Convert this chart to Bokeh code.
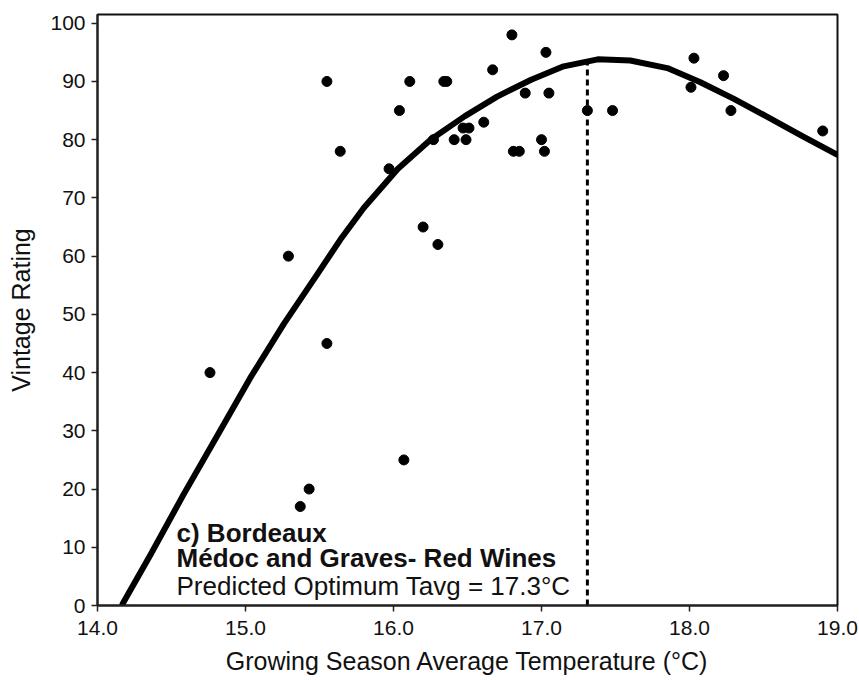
from bokeh.plotting import figure
from bokeh.models import FixedTicker, NumeralTickFormatter, Range1d
from bokeh.core.properties import value
from bokeh.embed import file_html
from bokeh.resources import INLINE

# Observed vintages: growing season average temperature (°C) and vintage rating
temp = [14.76, 15.29, 15.37, 15.43, 15.55, 15.55, 15.64, 15.97, 16.04, 16.07,
        16.11, 16.20, 16.27, 16.30, 16.34, 16.36, 16.41, 16.47, 16.49, 16.51,
        16.61, 16.67, 16.80, 16.81, 16.85, 16.89, 17.00, 17.02, 17.03, 17.05,
        17.31, 17.48, 18.01, 18.03, 18.23, 18.28, 18.90]
rating = [40, 60, 17, 20, 45, 90, 78, 75, 85, 25,
          90, 65, 80, 62, 90, 90, 80, 82, 80, 82,
          83, 92, 98, 78, 78, 88, 80, 78, 95, 88,
          85, 85, 89, 94, 91, 85, 81.5]

# Fitted response curve
curve_t = [14.17, 14.36, 14.58, 14.81, 15.03, 15.26, 15.48, 15.64, 15.80, 16.03,
           16.25, 16.48, 16.70, 16.93, 17.15, 17.38, 17.60, 17.85, 18.07, 18.30,
           18.52, 18.75, 19.00]
curve_r = [0.3, 8.8, 19.0, 29.2, 39.0, 48.4, 56.7, 62.8, 68.3, 75.0,
           80.0, 84.0, 87.4, 90.3, 92.6, 93.8, 93.6, 92.3, 89.9, 87.0,
           84.0, 80.8, 77.4]

optimum_t = [17.31, 17.31]
optimum_r = [0, 93.6]

x_ticks = [14, 15, 16, 17, 18, 19]
y_ticks = [0, 10, 20, 30, 40, 50, 60, 70, 80, 90, 100]

x_title = "Growing Season Average Temperature (°C)"
y_title = "Vintage Rating"
title_lines = ["c) Bordeaux", "Médoc and Graves- Red Wines"]
note_line = ["Predicted Optimum Tavg = 17.3°C"]

FONT = "Liberation Sans"

p = figure(width=859, height=678,
           x_range=Range1d(14, 19), y_range=Range1d(0, 101.5),
           output_backend="svg", toolbar_location=None,
           min_border_left=97, min_border_right=22,
           min_border_top=14, min_border_bottom=73)

p.background_fill_color = "white"
p.border_fill_color = "white"
p.outline_line_color = "#111111"
p.outline_line_width = 2
p.xgrid.grid_line_color = None
p.ygrid.grid_line_color = None

p.xaxis.ticker = FixedTicker(ticks=x_ticks)
p.xaxis.formatter = NumeralTickFormatter(format="0.0")
p.yaxis.ticker = FixedTicker(ticks=y_ticks)

for ax in (p.xaxis[0], p.yaxis[0]):
    ax.axis_line_color = "#222222"
    ax.axis_line_width = 2
    ax.major_tick_in = 0
    ax.major_tick_out = 6
    ax.major_tick_line_color = "#222222"
    ax.major_tick_line_width = 1.5
    ax.minor_tick_line_color = None
    ax.major_label_text_font = FONT
    ax.major_label_text_font_size = "21px"
    ax.major_label_text_color = "#111111"
    ax.axis_label_text_font = FONT
    ax.axis_label_text_font_style = "normal"
    ax.axis_label_text_color = "#111111"
    ax.axis_label_text_font_size = "25px"

p.xaxis.major_label_standoff = 9
p.yaxis.major_label_standoff = 6
p.xaxis.axis_label = x_title
p.xaxis.axis_label_standoff = 9
p.yaxis.axis_label = y_title
p.yaxis.axis_label_standoff = 12

# dashed optimum line
p.line(optimum_t, optimum_r, line_color="black", line_width=3, line_dash="6 4")

# fitted curve
p.line(curve_t, curve_r, line_color="black", line_width=6, line_join="round", line_cap="round")

# observations
p.scatter(temp, rating, size=10, marker="circle", fill_color="black", line_color="black")

# annotation
p.text(x=[14.534, 14.534], y=[12.46, 8.17], text=title_lines,
       text_font=value(FONT), text_font_size="26px", text_font_style="bold",
       text_color="#111111", text_baseline="alphabetic", text_align="left")
p.text(x=[14.534], y=[3.36], text=note_line,
       text_font=value(FONT), text_font_size="26px", text_font_style="normal",
       text_color="#111111", text_baseline="alphabetic", text_align="left")

open("out.html", "w").write(file_html(p, INLINE))
